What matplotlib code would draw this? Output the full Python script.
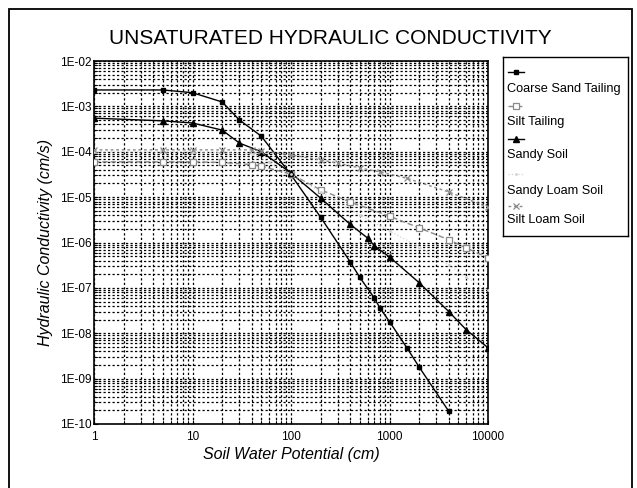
import numpy as np
import matplotlib
matplotlib.use('Agg')
import matplotlib.pyplot as plt
from matplotlib.patches import Rectangle
from matplotlib.ticker import LogLocator, FixedLocator, FixedFormatter, NullFormatter

plt.rcParams['font.family'] = ['Liberation Sans', 'DejaVu Sans']

# datos (potencial en cm, conductividad en cm/s)
coarse_x = [1, 5, 10, 20, 30, 50, 100, 200, 400, 500, 700, 800, 1000, 1500, 2000, 4000]
coarse_y = [2.3e-3, 2.3e-3, 2.0e-3, 1.25e-3, 5e-4, 2.2e-4, 3.1e-5, 3.6e-6, 3.7e-7, 1.7e-7,
            6e-8, 3.6e-8, 1.8e-8, 4.8e-9, 1.8e-9, 1.9e-10]

silt_tail_x = [1, 5, 10, 20, 40, 50, 100, 200, 400, 1000, 2000, 4000, 6000, 10000]
silt_tail_y = [6e-5, 6e-5, 6e-5, 5.8e-5, 5.2e-5, 4.8e-5, 3.2e-5, 1.45e-5, 7.8e-6, 3.8e-6,
               2.1e-6, 1.15e-6, 7.6e-7, 4.6e-7]

sandy_x = [1, 5, 10, 20, 30, 50, 100, 200, 400, 600, 700, 1000, 2000, 4000, 6000, 10000]
sandy_y = [5.5e-4, 4.8e-4, 4.3e-4, 3.0e-4, 1.55e-4, 1.0e-4, 3.4e-5, 9.5e-6, 2.5e-6, 1.25e-6,
           8.5e-7, 4.8e-7, 1.3e-7, 3e-8, 1.2e-8, 4.8e-9]

sandy_loam_x = [1, 10, 40, 60, 100, 200, 500, 1000, 2000, 4000, 6000, 10000]
sandy_loam_y = [1.0e-4, 1.0e-4, 9e-5, 6e-5, 3.2e-5, 1.3e-5, 4e-6, 1.8e-6, 8e-7, 3.2e-7,
                1.7e-7, 9e-8]

silt_loam_x = [1, 5, 10, 20, 40, 50, 100, 200, 300, 500, 800, 1500, 4000, 10000]
silt_loam_y = [1.1e-4, 1.1e-4, 1.1e-4, 1.1e-4, 1.1e-4, 1.05e-4, 8.5e-5, 6.6e-5, 5.6e-5,
               4.4e-5, 3.6e-5, 2.6e-5, 1.3e-5, 6e-6]

labels = ['Coarse Sand Tailing', 'Silt Tailing', 'Sandy Soil', 'Sandy Loam Soil', 'Silt Loam Soil']
y_ticks = [1e-2, 1e-3, 1e-4, 1e-5, 1e-6, 1e-7, 1e-8, 1e-9, 1e-10]
y_tick_labels = ['1E-02', '1E-03', '1E-04', '1E-05', '1E-06', '1E-07', '1E-08', '1E-09', '1E-10']
x_ticks = [1, 10, 100, 1000, 10000]
x_tick_labels = ['1', '10', '100', '1000', '10000']

W, H = 637, 488
fig = plt.figure(figsize=(W / 100, H / 100), dpi=100)

# marco exterior
fig.patches.append(Rectangle((9 / W, -0.05), (632 - 9) / W, 1 - 9 / H + 0.05,
                             transform=fig.transFigure, fill=False, lw=1.3, color='black'))

ax = fig.add_axes([94 / W, 1 - 424 / H, (488 - 94) / W, (424 - 61) / H])

estilos = [
    dict(color='black', ls='-', lw=1.0, marker='s', ms=3.5, mfc='black'),
    dict(color='#8a8a8a', ls=(0, (4, 2)), lw=1.0, marker='s', ms=4, mfc='white', mew=0.9),
    dict(color='black', ls='-', lw=1.0, marker='^', ms=4, mfc='black'),
    dict(color='#d4d4d4', ls=':', lw=0.9, marker='.', ms=2),
    dict(color='#8a8a8a', ls=(0, (2, 2)), lw=1.0, marker='x', ms=4.5, mew=0.9),
]
series = [(coarse_x, coarse_y), (silt_tail_x, silt_tail_y), (sandy_x, sandy_y),
          (sandy_loam_x, sandy_loam_y), (silt_loam_x, silt_loam_y)]

for (xs, ys), st, lab in zip(series, estilos, labels):
    ax.plot(xs, ys, label=lab, zorder=3, **st)

ax.set_xscale('log')
ax.set_yscale('log')
ax.set_xlim(1, 10000)
ax.set_ylim(1e-10, 1e-2)

ax.yaxis.set_major_locator(FixedLocator(y_ticks))
ax.yaxis.set_major_formatter(FixedFormatter(y_tick_labels))
ax.xaxis.set_major_locator(FixedLocator(x_ticks))
ax.xaxis.set_major_formatter(FixedFormatter(x_tick_labels))
ax.xaxis.set_minor_locator(LogLocator(base=10, subs=np.arange(2, 10), numticks=20))
ax.yaxis.set_minor_locator(LogLocator(base=10, subs=np.arange(2, 10), numticks=20))
ax.xaxis.set_minor_formatter(NullFormatter())
ax.yaxis.set_minor_formatter(NullFormatter())

ax.grid(True, which='both', color='black', ls=(0, (1.8, 1.8)), lw=0.9)
ax.tick_params(which='both', direction='in', length=3, labelsize=8.5, pad=2)
ax.tick_params(axis='x', pad=5)
for s in ax.spines.values():
    s.set_linewidth(1.2)

ax.set_xlabel('Soil Water Potential (cm)', fontsize=11.5, style='italic', labelpad=3)
ax.set_ylabel('Hydraulic Conductivity (cm/s)', fontsize=11.5, style='italic', labelpad=5)

fig.text(330 / W, 1 - 38 / H, 'UNSATURATED HYDRAULIC CONDUCTIVITY', ha='center', va='center',
         fontsize=15)

# leyenda dibujada a mano: muestra arriba, texto abajo
lg = fig.add_axes([503 / W, 1 - 236 / H, (628 - 503) / W, (236 - 57) / H])
lg.set_xlim(503, 628)
lg.set_ylim(236, 57)
lg.set_xticks([])
lg.set_yticks([])
for s in lg.spines.values():
    s.set_linewidth(1.0)
fila_muestra = [72, 106, 139, 174, 206]
fila_texto = [89, 122, 155, 191, 220]
for st, lab, ym, yt in zip(estilos, labels, fila_muestra, fila_texto):
    lg.plot([508, 516, 524], [ym, ym, ym], markevery=[1], **st)
    lg.text(507, yt, lab, fontsize=9.2, va='center', ha='left')

fig.savefig('out.png', dpi=100)
